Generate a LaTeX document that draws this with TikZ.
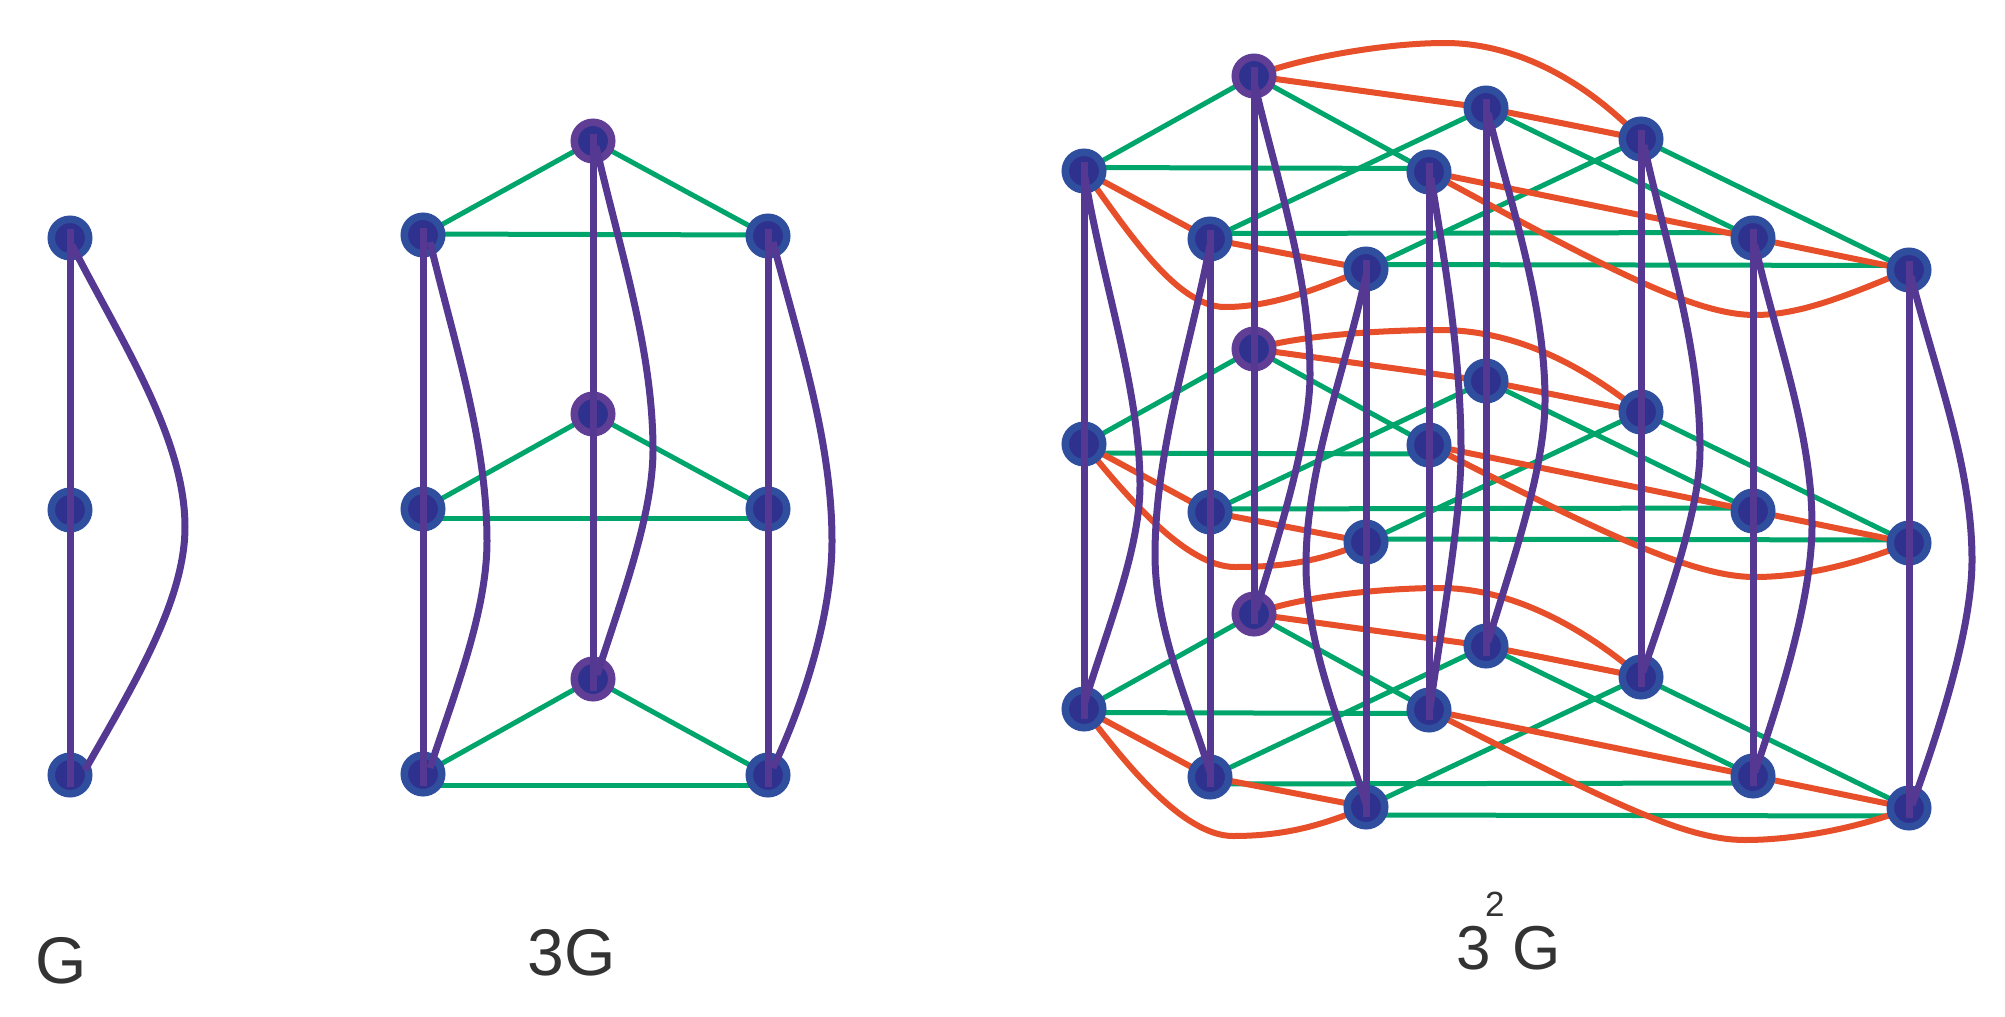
\documentclass[tikz,border=0pt]{standalone}
\usepackage{fontspec}
\setmainfont{Liberation Sans}
\definecolor{grn}{RGB}{0,165,108}
\definecolor{redl}{RGB}{231,78,42}
\definecolor{pur}{RGB}{85,56,146}
\definecolor{ringb}{RGB}{47,78,158}
\definecolor{ringp}{RGB}{96,62,150}
\definecolor{core}{RGB}{46,49,142}
\definecolor{txt}{RGB}{51,51,51}
\pgfdeclarelayer{bg}
\pgfsetlayers{bg,main}
\begin{document}
\begin{tikzpicture}[x=1pt,y=-1pt,
  vtx/.style={circle, draw=ringb, fill=core, line width=7.5pt, minimum size=37.5pt, inner sep=0pt},
  vtxp/.style={vtx, draw=ringp},
  purp/.style={draw=pur, line width=7pt},
  grnedge/.style={draw=grn, line width=5pt},
  rededge/.style={draw=redl, line width=6pt},
  lblbig/.style={text=txt, inner sep=0pt, font=\fontsize{66}{70}\selectfont},
  lblmid/.style={text=txt, inner sep=0pt, font=\fontsize{62}{66}\selectfont},
  lblsup/.style={text=txt, inner sep=0pt, font=\fontsize{35}{38}\selectfont}
]
\useasboundingbox (0,0) rectangle (2005,1017);

% ---------------- G ----------------
\node[vtx] (g1) at (70,238) {};
\node[vtx] (g2) at (70,510) {};
\node[vtx] (g3) at (70,775) {};
\draw[purp] ([yshift=9pt]g1.center) -- ([yshift=-12pt]g3.center);
\draw[purp] ([xshift=2pt,yshift=-7pt]g1.center) .. controls (120,339) and (185,437) .. (185,527)
  .. controls (185,602) and (131,689) .. ([xshift=15pt,yshift=5pt]g3.center);

% ---------------- 3G ----------------
\node[vtx] (l1) at (423,235) {};
\node[vtx] (l2) at (423,509) {};
\node[vtx] (l3) at (423,774) {};
\node[vtxp] (m1) at (593,141) {};
\node[vtxp] (m2) at (593,414) {};
\node[vtxp] (m3) at (593,679) {};
\node[vtx] (r1) at (768,236) {};
\node[vtx] (r2) at (768,509) {};
\node[vtx] (r3) at (768,775) {};
\begin{pgfonlayer}{bg}
\draw[grnedge] (l1.center) -- (m1.center);
\draw[grnedge] (m1.center) -- (r1.center);
\draw[grnedge] ([yshift=1pt]l1.center) -- ([yshift=1pt]r1.center);
\draw[grnedge] (l2.center) -- (m2.center);
\draw[grnedge] (m2.center) -- (r2.center);
\draw[grnedge] ([yshift=-9pt]l2.center) -- ([yshift=-9pt]r2.center);
\draw[grnedge] (l3.center) -- (m3.center);
\draw[grnedge] (m3.center) -- (r3.center);
\draw[grnedge] ([yshift=-11pt]l3.center) -- ([yshift=-10pt]r3.center);
\end{pgfonlayer}
\draw[purp] ([yshift=7pt]l1.center) -- ([yshift=-12pt]l3.center);
\draw[purp] ([yshift=7pt]m1.center) -- ([yshift=-12pt]m3.center);
\draw[purp] ([yshift=7pt]r1.center) -- ([yshift=-12pt]r3.center);
\draw[purp] ([xshift=7pt,yshift=-7pt]l1.center) .. controls (454,342) and (487,441) .. (487,541)
  .. controls (487,611) and (455,692) .. ([xshift=7pt,yshift=6pt]l3.center);
\draw[purp] ([xshift=3pt,yshift=-5pt]m1.center) .. controls (619,247) and (653,349) .. (653,450)
  .. controls (653,515) and (621,600) .. ([xshift=4pt,yshift=4pt]m3.center);
\draw[purp] ([xshift=5pt,yshift=-6pt]r1.center) .. controls (799,342) and (832,441) .. (832,541)
  .. controls (832,611) and (806,698) .. ([xshift=5pt,yshift=7pt]r3.center);

% ---------------- 3^2 G ----------------
\foreach \l/\dy in {1/0,2/273,3/538} {
  \node[vtxp] (a\l) at (1254,76+\dy) {};
  \node[vtx] (b\l) at (1084,171+\dy) {};
  \node[vtx] (c\l) at (1210,239+\dy) {};
  \node[vtx] (d\l) at (1366,269+\dy) {};
  \node[vtx] (e\l) at (1429,172+\dy) {};
  \node[vtx] (f\l) at (1486,108+\dy) {};
  \node[vtx] (k\l) at (1641,139+\dy) {};
  \node[vtx] (h\l) at (1753,238+\dy) {};
  \node[vtx] (i\l) at (1909,270+\dy) {};
}
\begin{pgfonlayer}{bg}
\foreach \l/\sa/\sb/\sc in {1/3.5/5.5/4.5, 2/-9/3/3, 3/-3.5/-7/-8} {
  \draw[grnedge] (b\l.center) -- (a\l.center);
  \draw[grnedge] (a\l.center) -- (e\l.center);
  \draw[grnedge] ([yshift=\sa pt]b\l.center) -- ([yshift=\sa pt]e\l.center);
  \draw[grnedge] (c\l.center) -- (f\l.center);
  \draw[grnedge] (f\l.center) -- (h\l.center);
  \draw[grnedge] ([yshift=\sb pt]c\l.center) -- ([yshift=\sb pt]h\l.center);
  \draw[grnedge] (d\l.center) -- (k\l.center);
  \draw[grnedge] (k\l.center) -- (i\l.center);
  \draw[grnedge] ([yshift=\sc pt]d\l.center) -- ([yshift=\sc pt]i\l.center);
  \draw[rededge] (b\l.center) -- (c\l.center);
  \draw[rededge] (c\l.center) -- (d\l.center);
  \draw[rededge] (a\l.center) -- (f\l.center);
  \draw[rededge] (f\l.center) -- (k\l.center);
  \draw[rededge] (e\l.center) -- (h\l.center);
  \draw[rededge] (h\l.center) -- (i\l.center);
}
% curved red edges
\draw[rededge] (b1.center) .. controls (1124,225) and (1175,307) .. (1225,307)
  .. controls (1275,307) and (1321,287) .. (d1.center);
\draw[rededge] (b2.center) .. controls (1124,493) and (1185,567) .. (1235,567)
  .. controls (1285,567) and (1321,561) .. (d2.center);
\draw[rededge] (b3.center) .. controls (1124,762) and (1183,836) .. (1233,836)
  .. controls (1283,836) and (1321,826) .. (d3.center);
\draw[rededge] (e1.center) .. controls (1609,270) and (1695,315) .. (1755,315)
  .. controls (1805,315) and (1859,290) .. (i1.center);
\draw[rededge] (e2.center) .. controls (1609,537) and (1695,577) .. (1755,577)
  .. controls (1805,577) and (1859,563) .. (i2.center);
\draw[rededge] (e3.center) .. controls (1609,802) and (1685,840) .. (1745,840)
  .. controls (1795,840) and (1859,828) .. (i3.center);
\draw[rededge] (a1.center) .. controls (1300,58) and (1385,43) .. (1445,43)
  .. controls (1510,43) and (1580,75) .. (k1.center);
\draw[rededge] (a2.center) .. controls (1300,335) and (1385,330) .. (1440,330)
  .. controls (1530,330) and (1600,380) .. (k2.center);
\draw[rededge] (a3.center) .. controls (1300,596) and (1385,588) .. (1440,588)
  .. controls (1530,588) and (1610,650) .. (k3.center);
\end{pgfonlayer}

% purple vertical edges
\foreach \c in {a,b,c,d,e,f,k,h,i} {
  \draw[purp] ([yshift=9pt]\c1.center) -- ([yshift=-10pt]\c3.center);
}
% purple curved edges
\draw[purp] ([yshift=-6pt]a1.center) .. controls (1277,180) and (1310,277) .. (1310,375)
  .. controls (1310,435) and (1280,532) .. ([xshift=2pt,yshift=4pt]a3.center);
\draw[purp] ([xshift=1pt,yshift=-6pt]b1.center) .. controls (1102,280) and (1140,390) .. (1140,485)
  .. controls (1140,550) and (1106,632) .. ([yshift=4pt]b3.center);
\draw[purp] ([yshift=-6pt]c1.center) .. controls (1190,348) and (1155,452) .. (1155,555)
  .. controls (1155,627) and (1187,700) .. ([yshift=5pt]c3.center);
\draw[purp] ([yshift=-6pt]d1.center) .. controls (1345,372) and (1306,468) .. (1306,565)
  .. controls (1306,645) and (1341,725) .. ([yshift=3pt]d3.center);
\draw[purp] ([xshift=2pt,yshift=-6pt]e1.center) .. controls (1446,268) and (1461,360) .. (1461,450)
  .. controls (1461,520) and (1442,622) .. ([xshift=1pt,yshift=2pt]e3.center);
\draw[purp] ([xshift=2pt,yshift=-5pt]f1.center) .. controls (1512,209) and (1545,304) .. (1545,400)
  .. controls (1545,470) and (1512,562) .. ([xshift=2pt,yshift=4pt]f3.center);
\draw[purp] ([xshift=3pt,yshift=-6pt]k1.center) .. controls (1665,243) and (1700,342) .. (1700,450)
  .. controls (1700,510) and (1668,598) .. ([xshift=2pt,yshift=5pt]k3.center);
\draw[purp] ([xshift=2pt,yshift=-7pt]h1.center) .. controls (1776,338) and (1812,432) .. (1812,525)
  .. controls (1812,595) and (1783,690) .. ([xshift=2pt,yshift=4pt]h3.center);
\draw[purp] ([xshift=2pt,yshift=-6pt]i1.center) .. controls (1935,371) and (1972,465) .. (1972,560)
  .. controls (1972,625) and (1942,723) .. ([xshift=3pt,yshift=3pt]i3.center);

% ---------------- labels ----------------
\node[lblbig, anchor=base] (tG) at (61,983) {G};
\node[lblbig, anchor=base] (t3G) at (572,975) {3G};
\node[lblmid, anchor=base west] (t3) at (1456,969) {3};
\node[lblsup, anchor=base west] (t2) at (1485,916) {2};
\node[lblmid, anchor=base west] (tG2) at (1512,969) {G};
\end{tikzpicture}
\end{document}
